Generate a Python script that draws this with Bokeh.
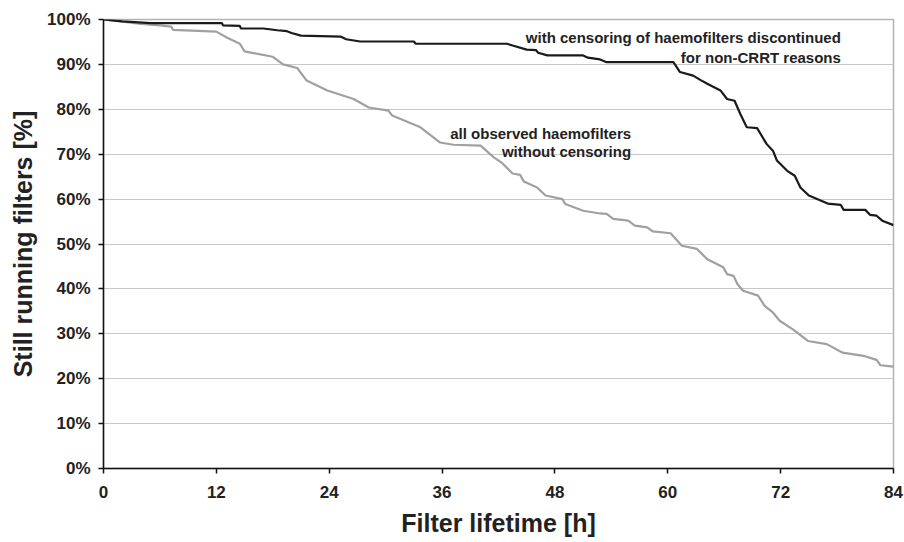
from bokeh.plotting import figure
from bokeh.models import Range1d, FixedTicker, ColumnDataSource
from bokeh.core.properties import value
from bokeh.embed import file_html
from bokeh.resources import INLINE

# ---- data (hours, percent still running) ----
censored_h = [0, 2, 5, 12.6, 12.7, 14.5, 14.6, 17, 18.5, 19.5, 20, 21, 25.2, 25.8, 27.3,
              33, 33.2, 42.9, 43.5, 45, 46, 46.2, 47.2, 51, 51.5, 52.8, 53.5, 60.6,
              61.3, 62.7, 63.5, 64.2, 65.6, 66.3, 67.1, 67.7, 68.4, 69.5, 70.5, 71.2,
              71.6, 72.7, 73.5, 74.1, 75.0, 77.0, 78.4, 78.7, 81.0, 81.5, 82.2, 82.8, 84]
censored_pct = [100, 99.6, 99.2, 99.2, 98.7, 98.6, 98.0, 98.0, 97.6, 97.4, 97.0, 96.4, 96.2,
                95.6, 95.1, 95.1, 94.6, 94.6, 94.2, 93.3, 93.2, 92.6, 92.0, 92.0, 91.5,
                91.1, 90.5, 90.5, 88.3, 87.5, 86.5, 85.7, 84.2, 82.3, 81.9, 79.0, 76.0,
                75.8, 72.3, 70.7, 68.6, 66.3, 65.2, 62.6, 60.8, 59.0, 58.7, 57.6, 57.6,
                56.5, 56.3, 55.2, 54.2]

all_h = [0, 2, 4, 6, 7.2, 7.4, 12, 13.1, 14.5, 15, 18, 19.1, 20.6, 21.6, 23.8, 26.6, 28.2,
         30.3, 30.7, 33.7, 35.8, 37.2, 40.1, 41.5, 42.4, 43.5, 44.3, 44.7, 46.1, 47.0,
         48.8, 49.1, 51.0, 52.8, 53.5, 54.2, 55.8, 56.5, 57.8, 58.4, 60.3, 61.5, 63.1,
         64.2, 65.9, 66.3, 67.0, 67.4, 68.0, 69.6, 70.3, 71.2, 71.9, 73.3, 74.9, 76.9,
         78.6, 80.8, 82.2, 82.6, 84]
all_pct = [100, 99.5, 99.0, 98.7, 98.4, 97.7, 97.3, 96.0, 94.6, 92.9, 91.7, 90.0, 89.2,
           86.4, 84.2, 82.3, 80.4, 79.7, 78.6, 76.0, 72.6, 72.1, 71.9, 69.3, 68.0, 65.7,
           65.4, 63.9, 62.6, 60.8, 60.0, 58.9, 57.4, 56.8, 56.7, 55.6, 55.2, 54.1, 53.7,
           52.8, 52.4, 49.6, 48.9, 46.6, 44.8, 43.3, 42.9, 41.1, 39.6, 38.5, 36.2, 34.7,
           32.9, 31.0, 28.4, 27.7, 25.8, 25.1, 24.2, 23.0, 22.7]

x_ticks = [0, 12, 24, 36, 48, 60, 72, 84]
y_ticks = [0, 10, 20, 30, 40, 50, 60, 70, 80, 90, 100]
y_tick_labels = ["0%", "10%", "20%", "30%", "40%", "50%", "60%", "70%", "80%", "90%", "100%"]

note_text = ["with censoring of haemofilters discontinued", "for non-CRRT reasons",
             "all observed haemofilters", "without censoring"]
note_x = [78.4, 78.4, 56.1, 56.1]
note_y = [96.0, 91.6, 74.7, 70.5]

FONT = "Liberation Sans"
TXT = "#222222"

p = figure(frame_width=790, frame_height=449,
           min_border_left=103, min_border_right=11, min_border_top=19, min_border_bottom=74,
           x_range=Range1d(0, 84), y_range=Range1d(0, 100),
           output_backend="svg", toolbar_location=None, tools="")

p.background_fill_color = "white"
p.border_fill_color = "white"
p.outline_line_color = "#b4b4b4"
p.outline_line_width = 1.5

# grid
p.xgrid.grid_line_color = None
p.ygrid.grid_line_color = "#c8c8c8"
p.ygrid.grid_line_width = 1

# axes
p.xaxis.ticker = FixedTicker(ticks=x_ticks)
p.yaxis.ticker = FixedTicker(ticks=y_ticks)
p.yaxis.major_label_overrides = {t: l for t, l in zip(y_ticks, y_tick_labels)}
for ax in (p.xaxis[0], p.yaxis[0]):
    ax.axis_line_color = "#111111"
    ax.axis_line_width = 1.5
    ax.major_tick_line_color = "#111111"
    ax.major_tick_line_width = 1.5
    ax.major_tick_out = 5
    ax.major_tick_in = 0
    ax.minor_tick_out = 0
    ax.minor_tick_in = 0
    ax.major_label_text_font = FONT
    ax.major_label_text_font_style = "bold"
    ax.major_label_text_font_size = "17px"
    ax.major_label_text_color = TXT
    ax.axis_label_text_font = FONT
    ax.axis_label_text_font_style = "bold"
    ax.axis_label_text_font_size = "25px"
    ax.axis_label_text_color = TXT

p.xaxis.axis_label = "Filter lifetime [h]"
p.yaxis.axis_label = "Still running filters [%]"
p.xaxis.major_label_standoff = 12
p.xaxis.axis_label_standoff = 8
p.yaxis.major_label_standoff = 8
p.yaxis.axis_label_standoff = 7

# curves
p.line(all_h, all_pct, line_color="#a0a0a0", line_width=2.2)
p.line(censored_h, censored_pct, line_color="#1a1a1a", line_width=2.2)

# annotations
src = ColumnDataSource(dict(x=note_x, y=note_y, t=note_text))
p.text(x="x", y="y", text="t", source=src, text_align="right", text_baseline="alphabetic",
       text_font=value(FONT), text_font_style="bold", text_font_size="15px", text_color=TXT)

open("out.html", "w").write(file_html(p, INLINE))
